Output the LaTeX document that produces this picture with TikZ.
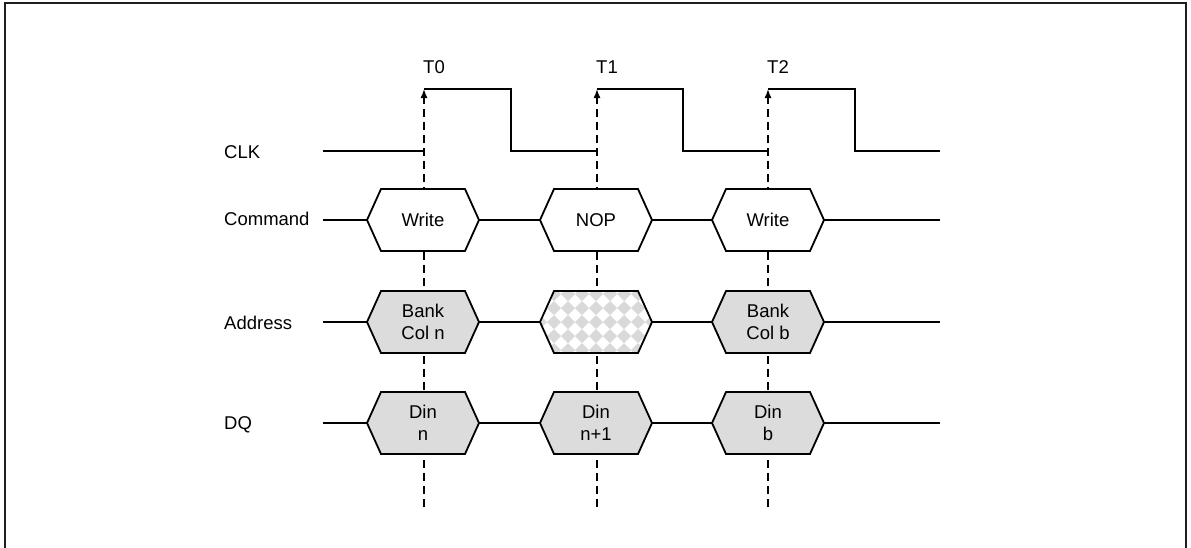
\documentclass[tikz,border=0pt]{standalone}
\usepackage{fontspec}
\setmainfont{Liberation Sans}
\usetikzlibrary{arrows.meta}
\definecolor{hexgray}{HTML}{DCDCDC}
\definecolor{checkgray}{HTML}{D9D9D9}
\definecolor{framec}{HTML}{1E1E1E}
\tikzset{
  sig/.style={line width=1.8pt, line join=miter, black},
  hexline/.style={draw=black, line width=1.8pt, line join=miter},
  hexframe/.style={minimum width=112pt, minimum height=62pt, inner sep=0pt, outer sep=0pt},
  hextext/.style={align=center, inner sep=0pt, font=\fontsize{18.5}{22}\selectfont},
  siglabel/.style={anchor=west, inner sep=0pt, font=\fontsize{18.5}{22}\selectfont},
  tlabel/.style={anchor=base west, inner sep=0pt, font=\fontsize{18.5}{22}\selectfont},
  tickline/.style={line width=1.4pt, dash pattern=on 8pt off 5pt, -{Latex[length=9pt,width=7pt]}},
}
\newcommand\hexnode[5]{%
  \node[hexframe] (#1) at (#2,#3) {};
  \path[hexline, fill=#4] (#1.west) -- ([xshift=14pt]#1.north west) -- ([xshift=-14pt]#1.north east)
     -- (#1.east) -- ([xshift=-14pt]#1.south east) -- ([xshift=14pt]#1.south west) -- cycle;
  \node[hextext] (#1-t) at (#1) {#5};
}
\begin{document}
\begin{tikzpicture}[x=1pt,y=-1pt]
\useasboundingbox (0,0) rectangle (1191,547);
\draw[framec, line width=2pt] (4.7,3) rectangle (1185.7,560);

% time references
\foreach \n/\x in {0/424,1/597,2/768}{
  \coordinate (tb\n) at (\x,507);
  \coordinate (tt\n) at (\x,89);
  \draw[tickline] (tb\n) -- (tt\n);
  \node[tlabel] (tl\n) at (\x-1,73) {T\n};
}

% signal labels
\node[siglabel] (lclk) at (224,152) {CLK};
\node[siglabel] (lcmd) at (224,219) {Command};
\node[siglabel] (ladr) at (224,323) {Address};
\node[siglabel] (ldq)  at (224,425) {DQ};

% CLK
\coordinate (clks) at (323,151);
\coordinate (clke) at (940,151);
\coordinate (r0) at (424,151);
\draw[sig] (clks) -- (r0);
\draw[sig] (tt0) -- (511,89) -- (511,151) -- (597,151);
\draw[sig] (tt1) -- (683,89) -- (683,151) -- (768,151);
\draw[sig] (tt2) -- (855,89) -- (855,151) -- (clke);

% Command
\hexnode{cA}{423}{220}{white}{Write}
\hexnode{cB}{596}{220}{white}{NOP}
\hexnode{cC}{768}{220}{white}{Write}
\coordinate (cs) at (323,220);
\coordinate (ce) at (940,220);
\draw[sig] (cs) -- (cA.west);
\draw[sig] (cA.east) -- (cB.west);
\draw[sig] (cB.east) -- (cC.west);
\draw[sig] (cC.east) -- (ce);

% Address
\hexnode{aA}{423}{322}{hexgray}{Bank\\Col n}
\node[hexframe] (aB) at (596,322) {};
\path[fill=white] (aB.west) -- ([xshift=14pt]aB.north west) -- ([xshift=-14pt]aB.north east)
     -- (aB.east) -- ([xshift=-14pt]aB.south east) -- ([xshift=14pt]aB.south west) -- cycle;
\begin{scope}
  \clip (aB.west) -- ([xshift=14pt]aB.north west) -- ([xshift=-14pt]aB.north east)
     -- (aB.east) -- ([xshift=-14pt]aB.south east) -- ([xshift=14pt]aB.south west) -- cycle;
  \foreach \i in {-5,...,5}{
    \foreach \j in {-3,...,3}{
      \fill[checkgray] (596+14*\i-7,322+14*\j) -- ++(7,-7) -- ++(7,7) -- ++(-7,7) -- cycle;
    }
  }
\end{scope}
\path[hexline] (aB.west) -- ([xshift=14pt]aB.north west) -- ([xshift=-14pt]aB.north east)
     -- (aB.east) -- ([xshift=-14pt]aB.south east) -- ([xshift=14pt]aB.south west) -- cycle;
\hexnode{aC}{768}{322}{hexgray}{Bank\\Col b}
\coordinate (as) at (323,322);
\coordinate (ae) at (940,322);
\draw[sig] (as) -- (aA.west);
\draw[sig] (aA.east) -- (aB.west);
\draw[sig] (aB.east) -- (aC.west);
\draw[sig] (aC.east) -- (ae);

% DQ
\hexnode{dA}{423}{423}{hexgray}{Din\\n}
\hexnode{dB}{596}{423}{hexgray}{Din\\n+1}
\hexnode{dC}{768}{423}{hexgray}{Din\\b}
\coordinate (ds) at (323,423);
\coordinate (de) at (940,423);
\draw[sig] (ds) -- (dA.west);
\draw[sig] (dA.east) -- (dB.west);
\draw[sig] (dB.east) -- (dC.west);
\draw[sig] (dC.east) -- (de);
\end{tikzpicture}
\end{document}
